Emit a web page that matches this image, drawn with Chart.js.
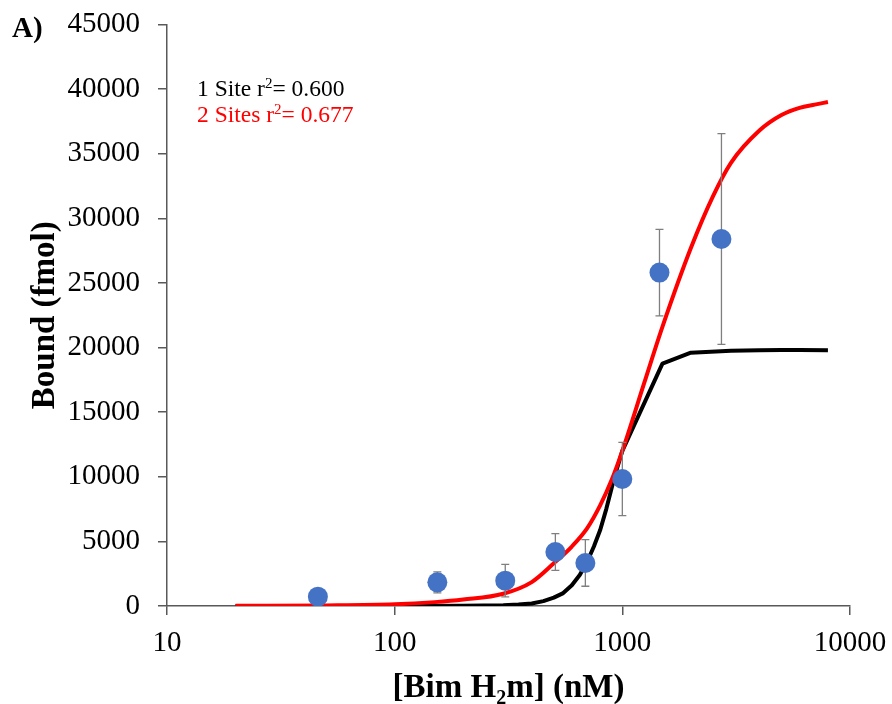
<!DOCTYPE html>
<html>
<head>
<meta charset="utf-8">
<script src="https://cdn.jsdelivr.net/npm/chart.js@4"></script>
<style>
html,body{margin:0;padding:0;background:#ffffff;}
canvas{display:block;}
</style>
</head>
<body>
<canvas id="c" width="892" height="704"></canvas>
<script>
// ---- data ----
const concentrationNM = [46, 154, 306, 508, 688, 1000, 1456, 2725];
const boundMean       = [720, 1830, 1960, 4180, 3330, 9830, 25800, 28400];
const boundError      = [300, 810, 1260, 1420, 1800, 2840, 3350, 8150];

const twoSiteX = [20, 50, 100, 150, 200, 300, 400, 500, 600, 700, 800, 900, 1000, 1250, 1500, 2000, 2500, 3000, 4000, 5000, 6000, 7000, 8000];
const twoSiteY = [10, 40, 130, 300, 500, 950, 1850, 3300, 4600, 6000, 7800, 9800, 12000, 17300, 21600, 27700, 31700, 34300, 36800, 38000, 38550, 38800, 39000];

const oneSiteX = [20, 100, 200, 300, 350, 400, 450, 500, 550, 600, 650, 700, 750, 800, 850, 900, 950, 1000, 1500, 2000, 3000, 4000, 5000, 6000, 8000];
const oneSiteY = [0, 5, 20, 60, 110, 200, 380, 650, 1000, 1600, 2400, 3400, 4600, 5900, 7500, 9200, 10700, 12000, 18750, 19600, 19750, 19800, 19820, 19820, 19800];

const xTickValues = [10, 100, 1000, 10000];
const yMin = 0, yMax = 45000, yStep = 5000;

const yTitle = 'Bound (fmol)';
const xTitleParts = ['[Bim H', '2', 'm] (nM)'];
const panelLabel = 'A)';
const fitLabels = [
  {pre: '1 Site r', sup: '2', post: '= 0.600', color: '#000000'},
  {pre: '2 Sites r', sup: '2', post: '= 0.677', color: '#FF0000'}
];

const SERIF = "'Liberation Serif', 'Times New Roman', serif";
const AXIS_COLOR = '#595959';

const toPoints = (xs, ys) => xs.map((x, i) => ({x: x, y: ys[i]}));

// error bars drawn under the markers
const errorBarPlugin = {
  id: 'errorBars',
  beforeDatasetDraw(chart, args) {
    if (args.index !== 0) return;
    const ctx = chart.ctx, xs = chart.scales.x, ys = chart.scales.y;
    ctx.save();
    ctx.strokeStyle = '#7F7F7F';
    ctx.lineWidth = 1.3;
    concentrationNM.forEach((c, i) => {
      const px = xs.getPixelForValue(c);
      const top = ys.getPixelForValue(boundMean[i] + boundError[i]);
      const bot = ys.getPixelForValue(boundMean[i] - boundError[i]);
      ctx.beginPath();
      ctx.moveTo(px, top); ctx.lineTo(px, bot);
      ctx.moveTo(px - 4, top); ctx.lineTo(px + 4, top);
      ctx.moveTo(px - 4, bot); ctx.lineTo(px + 4, bot);
      ctx.stroke();
    });
    ctx.restore();
  }
};

function drawSupText(ctx, x, y, pre, sup, post, size, weight, shift) {
  ctx.font = weight + ' ' + size + 'px ' + SERIF;
  ctx.fillText(pre, x, y);
  let w = ctx.measureText(pre).width;
  ctx.font = weight + ' ' + Math.round(size * 0.62) + 'px ' + SERIF;
  ctx.fillText(sup, x + w, y + shift);
  w += ctx.measureText(sup).width;
  ctx.font = weight + ' ' + size + 'px ' + SERIF;
  ctx.fillText(post, x + w, y);
}

const textPlugin = {
  id: 'texts',
  afterDraw(chart) {
    const ctx = chart.ctx, area = chart.chartArea;
    ctx.save();
    ctx.textBaseline = 'alphabetic';
    ctx.textAlign = 'left';
    ctx.fillStyle = '#000000';
    ctx.font = 'bold 29px ' + SERIF;
    ctx.fillText(panelLabel, 12, 37);
    fitLabels.forEach((f, i) => {
      ctx.fillStyle = f.color;
      drawSupText(ctx, 197, 96 + i * 26, f.pre, f.sup, f.post, 23.5, 'normal', -8);
    });
    ctx.fillStyle = '#000000';
    const size = 33;
    ctx.font = 'bold ' + size + 'px ' + SERIF;
    const w1 = ctx.measureText(xTitleParts[0]).width;
    const w3 = ctx.measureText(xTitleParts[2]).width;
    ctx.font = 'bold ' + Math.round(size * 0.62) + 'px ' + SERIF;
    const w2 = ctx.measureText(xTitleParts[1]).width;
    const total = w1 + w2 + w3;
    const cx = (area.left + area.right) / 2;
    drawSupText(ctx, cx - total / 2, 697, xTitleParts[0], xTitleParts[1], xTitleParts[2], size, 'bold', 7);
    ctx.restore();
  }
};

new Chart(document.getElementById('c'), {
  type: 'scatter',
  data: {
    datasets: [
      {
        label: 'Data',
        data: toPoints(concentrationNM, boundMean),
        backgroundColor: '#4472C4',
        borderWidth: 0,
        pointRadius: 10,
        pointHoverRadius: 10,
        showLine: false
      },
      {
        label: '2 Sites',
        data: toPoints(twoSiteX, twoSiteY),
        borderColor: '#FF0000',
        borderWidth: 4,
        pointRadius: 0,
        showLine: true,
        cubicInterpolationMode: 'monotone',
        fill: false
      },
      {
        label: '1 Site',
        data: toPoints(oneSiteX, oneSiteY),
        borderColor: '#000000',
        borderWidth: 4,
        pointRadius: 0,
        showLine: true,
        tension: 0,
        borderJoinStyle: 'round',
        fill: false
      }
    ]
  },
  options: {
    responsive: false,
    animation: false,
    devicePixelRatio: 1,
    layout: {padding: {top: 24.5, right: 42, bottom: 0, left: 0}},
    plugins: {legend: {display: false}, tooltip: {enabled: false}},
    scales: {
      x: {
        type: 'logarithmic',
        min: 10,
        max: 10000,
        afterBuildTicks: s => { s.ticks = xTickValues.map(v => ({value: v})); },
        afterFit: s => { s.height = 98; s.paddingLeft = 0; s.paddingRight = 0; },
        border: {display: true, color: AXIS_COLOR, width: 1.5},
        grid: {display: true, drawOnChartArea: false, drawTicks: true, tickLength: 9, color: AXIS_COLOR, lineWidth: 1.5},
        ticks: {
          autoSkip: false,
          maxRotation: 0,
          padding: 11,
          color: '#000000',
          font: {family: SERIF, size: 29},
          callback: v => String(v)
        },
        title: {display: false}
      },
      y: {
        type: 'linear',
        min: yMin,
        max: yMax,
        afterFit: s => { s.width = 167; s.paddingTop = 0; s.paddingBottom = 0; },
        border: {display: true, color: AXIS_COLOR, width: 1.5},
        grid: {display: true, drawOnChartArea: false, drawTicks: true, tickLength: 9, color: AXIS_COLOR, lineWidth: 1.5},
        ticks: {
          stepSize: yStep,
          padding: 18,
          color: '#000000',
          font: {family: SERIF, size: 29},
          callback: v => String(v)
        },
        title: {
          display: true,
          text: yTitle,
          color: '#000000',
          font: {family: SERIF, size: 33, weight: 'bold'},
          padding: {top: 26, bottom: 0}
        }
      }
    }
  },
  plugins: [errorBarPlugin, textPlugin]
});
</script>
</body>
</html>
